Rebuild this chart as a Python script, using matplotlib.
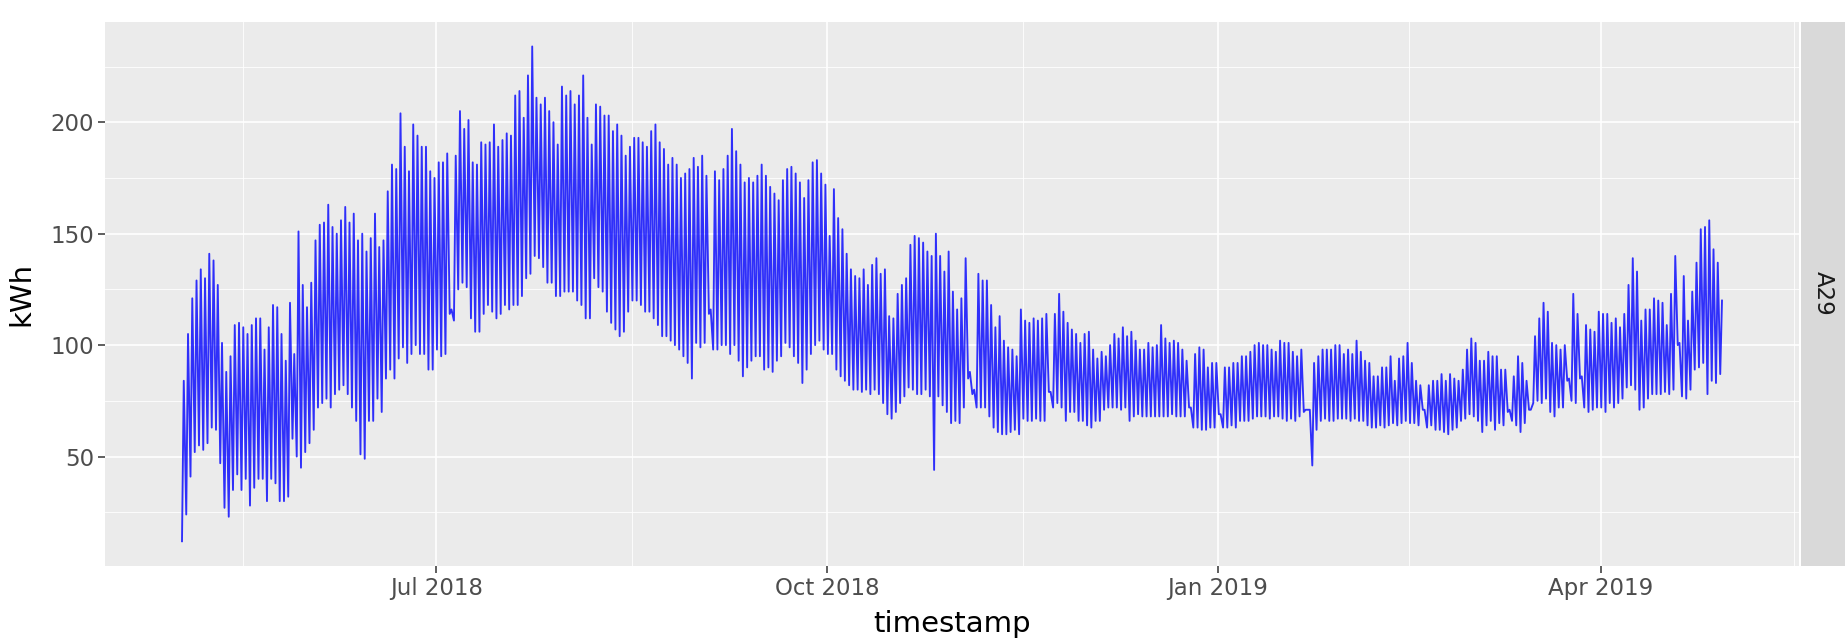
import numpy as np
import pandas as pd
import matplotlib
matplotlib.use("Agg")
import matplotlib.pyplot as plt
import matplotlib.dates as mdates

# Daily readings for meter A29 (first day 2018-05-02).
# Days where the series has a gap are given as a short flat value.
start_date = "2018-05-02"

day_high = [
    84, 105, 121, 129, 134, 130, 141, 138, 127, 101,
    88, 95, 109, 110, 108, 105, 109, 112, 112, 98,
    108, 118, 117, 105, 93, 119, 96, 151, 127, 117,
    128, 147, 154, 155, 163, 153, 150, 156, 162, 155,
    159, 147, 150, 142, 148, 159, 144, 147, 169, 181,
    179, 204, 189, 178, 199, 194, 189, 189, 178, 175,
    182, 182, 186, 116,
    185, 205, 197, 201, 182, 181, 191, 190, 191, 199,
    189, 192, 195, 194, 212, 214, 202, 221, 234, 211,
    208, 211, 205, 200, 190, 216, 212, 214, 208, 212,
    221, 202, 190, 208, 207, 203, 203, 196, 199, 194,
    185, 189, 193, 193, 191, 189, 196, 199, 191, 188,
    181, 184, 181, 175, 177, 179, 184, 180,
    185, 176, 116, 178, 174, 179, 185, 197, 187, 181,
    173, 175, 173, 176, 181, 176, 171, 168, 165, 174,
    179, 180, 177, 173, 166, 174, 182, 183, 177, 172,
    149, 170, 157, 152, 141, 134, 131, 130, 134, 127,
    136, 139, 132, 134, 113, 112, 123, 127, 130, 145,
    149, 148, 146, 142, 140, 150, 140, 133, 142, 124,
    116,
    121, 139, 88, 80, 132, 129, 129, 118, 108, 113,
    102, 99, 98, 95, 116, 111, 110, 112, 111, 112,
    114, 79, 114, 123, 115, 110, 107, 105, 101, 105,
    106, 98, 94, 97, 95, 100, 105, 103, 108, 104,
    106, 102, 98, 98, 101, 99, 100, 109, 103, 101,
    102, 101, 98, 93, 72, 96, 99, 98, 90, 92,
    92, 69,
    90, 90, 92, 92, 95, 95, 97, 100, 101, 100,
    100, 98, 97, 102, 101, 101, 97, 95, 98, 71,
    71, 92, 95, 98, 98, 98, 100, 100, 96, 98,
    96, 102, 97, 93, 92, 86, 86, 90, 90, 95,
    84, 94, 95, 101, 92, 84, 82, 71, 82, 84,
    84, 87, 84, 87, 85, 84, 89, 98, 103, 101,
    93, 93, 97, 95, 95, 89, 89, 71, 86, 95,
    92, 84, 71, 104, 112, 119, 115, 101, 100, 98,
    100, 85, 123, 114, 86, 109, 107, 106, 115, 114,
    114, 110, 112, 108, 114, 127, 139, 133, 111, 116,
    116, 121, 120, 119, 109, 123, 140, 101, 131, 111,
    124, 137, 152, 153, 156, 143, 137, 120,
]

day_low = [
    12, 24, 41, 52, 55, 53, 56, 63, 62, 47,
    27, 23, 35, 42, 35, 40, 28, 36, 40, 40,
    30, 40, 38, 30, 30, 32, 58, 50, 45, 52,
    56, 62, 72, 74, 76, 72, 78, 80, 82, 78,
    72, 66, 51, 49, 66, 66, 76, 70, 85, 89,
    85, 94, 99, 92, 96, 100, 96, 96, 89, 89,
    98, 95, 96, 114,
    111, 125, 128, 126, 112, 106, 106, 114, 118, 115,
    112, 114, 118, 116, 118, 118, 122, 130, 132, 140,
    139, 135, 128, 128, 122, 122, 124, 124, 124, 120,
    118, 112, 112, 130, 126, 124, 115, 110, 107, 104,
    106, 115, 120, 120, 118, 115, 115, 112, 109, 104,
    104, 102, 100, 98, 95, 92, 85, 101,
    99, 101, 114, 98, 98, 100, 100, 96, 100, 93,
    86, 90, 93, 95, 95, 89, 90, 88, 93, 95,
    101, 99, 95, 92, 83, 89, 96, 100, 102, 98,
    96, 96, 89, 86, 84, 82, 80, 80, 79, 80,
    78, 80, 78, 74, 69, 67, 70, 74, 77, 81,
    80, 78, 78, 80, 77, 44, 77, 73, 70, 65,
    66,
    65, 72, 85, 78, 72, 72, 72, 68, 63, 61,
    60, 60, 61, 62, 60, 67, 66, 66, 67, 66,
    66, 79, 72, 74, 72, 66, 70, 70, 66, 66,
    64, 63, 66, 66, 71, 72, 72, 72, 71, 72,
    66, 68, 69, 68, 68, 68, 68, 68, 68, 68,
    69, 68, 68, 68, 72, 63, 63, 62, 62, 63,
    63, 69,
    63, 63, 64, 63, 66, 66, 66, 67, 68, 68,
    68, 67, 68, 68, 67, 66, 67, 66, 68, 70,
    71, 46, 62, 66, 67, 66, 66, 67, 67, 67,
    66, 67, 66, 66, 64, 63, 63, 64, 63, 64,
    65, 64, 65, 66, 65, 65, 64, 71, 63, 64,
    62, 62, 61, 60, 62, 63, 66, 67, 69, 68,
    66, 61, 64, 66, 62, 65, 64, 70, 66, 64,
    61, 65, 71, 74, 75, 74, 76, 70, 68, 72,
    72, 84, 75, 74, 85, 72, 70, 71, 72, 72,
    70, 74, 72, 74, 76, 81, 82, 80, 71, 72,
    76, 78, 78, 78, 79, 78, 80, 100, 77, 76,
    80, 89, 90, 92, 78, 84, 83, 87,
]

x_breaks = ["2018-04-01", "2018-07-01", "2018-10-01",
            "2019-01-01", "2019-04-01", "2019-07-01"]
x_labels = ["Apr 2018", "Jul 2018", "Oct 2018",
            "Jan 2019", "Apr 2019", "Jul 2019"]
y_breaks = [0, 50, 100, 150, 200, 250]
facet_label = "A29"

assert len(day_high) == len(day_low)

# night low in the early morning, peak in the afternoon
days = pd.date_range(start_date, periods=len(day_high), freq="D")
times = np.empty(2 * len(days), dtype="datetime64[ns]")
times[0::2] = (days + pd.Timedelta(hours=4)).values
times[1::2] = (days + pd.Timedelta(hours=14)).values
kwh = np.empty(2 * len(days))
kwh[0::2] = day_low
kwh[1::2] = day_high

W, H = 1845, 639
fig = plt.figure(figsize=(W / 100, H / 100), dpi=100)
left, right, top, bottom = 105, 1799, 21.7, 566
ax = fig.add_axes([left / W, 1 - bottom / H, (right - left) / W, (bottom - top) / H])
ax.set_facecolor("#EBEBEB")
for s in ax.spines.values():
    s.set_visible(False)

ax.plot(times, kwh, color="#0000FF", lw=1.35, alpha=0.8)

xb = mdates.date2num(pd.to_datetime(x_breaks))
ax.set_xticks(xb)
ax.set_xticklabels(x_labels)
ax.set_xticks((xb[:-1] + xb[1:]) / 2, minor=True)
ax.set_yticks(y_breaks)
ax.set_yticks([(a + b) / 2 for a, b in zip(y_breaks[:-1], y_breaks[1:])], minor=True)

# ggplot style 5% expansion (set after the ticks so they don't widen it)
tnum = mdates.date2num(times)
span = tnum.max() - tnum.min()
ax.set_xlim(tnum.min() - 0.05 * span, tnum.max() + 0.05 * span)
yspan = kwh.max() - kwh.min()
ax.set_ylim(kwh.min() - 0.05 * yspan, kwh.max() + 0.05 * yspan)

ax.grid(which="major", color="white", lw=1.2)
ax.grid(which="minor", color="white", lw=0.6)
ax.set_axisbelow(True)
ax.tick_params(which="major", length=5, width=1.1, color="#333333",
               labelsize=16.5, labelcolor="#4D4D4D", pad=3)
ax.tick_params(which="minor", length=0)

ax.set_xlabel("timestamp", fontsize=21)
ax.xaxis.set_label_coords(0.5, (bottom - 624) / (bottom - top))
ax.xaxis.label.set_va("center")
ax.set_ylabel("kWh", fontsize=21)
ax.yaxis.set_label_coords((21 - left) / (right - left), 0.5)
ax.yaxis.label.set_va("center")

# facet strip on the right
strip = fig.add_axes([1801 / W, 1 - bottom / H, (W - 1801) / W, (bottom - top) / H])
strip.set_facecolor("#D9D9D9")
strip.set_xticks([])
strip.set_yticks([])
for s in strip.spines.values():
    s.set_visible(False)
strip.text(0.5, 0.5, facet_label, rotation=-90, ha="center", va="center",
           fontsize=16.5, color="#1A1A1A", transform=strip.transAxes)

fig.savefig("out.png", dpi=100)
